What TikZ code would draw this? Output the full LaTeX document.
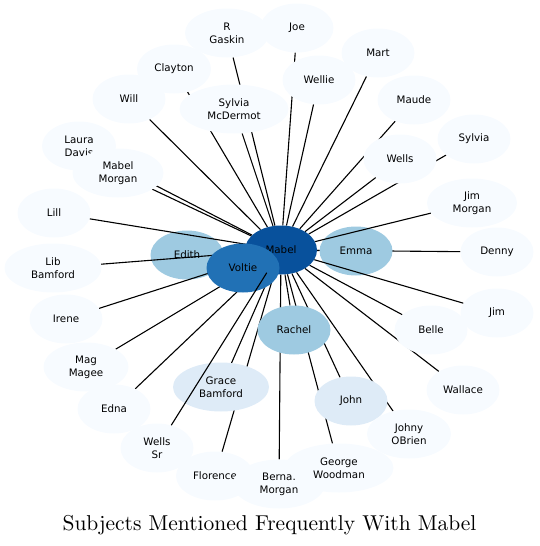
\documentclass[tikz,border=0pt]{standalone}
\usepackage{fontspec}
\newfontfamily\lab{DejaVu Sans}
\newfontfamily\ttl{lmroman10-regular}[Extension=.otf]
\usetikzlibrary{shapes.geometric}
\definecolor{pale}{HTML}{F7FBFF}
\definecolor{light}{HTML}{DEEBF7}
\definecolor{mid}{HTML}{9ECAE1}
\definecolor{strong}{HTML}{2171B5}
\definecolor{deep}{HTML}{08519C}
\pgfdeclarelayer{bglayer}
\pgfdeclarelayer{edgelayer}
\pgfdeclarelayer{toplayer}
\pgfsetlayers{bglayer,edgelayer,main,toplayer}
\tikzset{
  lbl/.style={font=\lab\fontsize{10.3}{13}\selectfont, align=center, text=black},
  nd/.style={ellipse, inner sep=0pt, minimum height=49pt, minimum width=73pt, lbl},
  pl/.style={nd, fill=pale},
  lt/.style={nd, fill=light},
  md/.style={nd, fill=mid},
  ed/.style={line width=1.1pt, black}
}
\begin{document}
\begin{tikzpicture}[x=1pt,y=-1pt]
\useasboundingbox (0,0) rectangle (540,546);
\begin{pgfonlayer}{bglayer}
\node[md] (edith) at (187,255) {Edith};
\end{pgfonlayer}
% main layer nodes
\node[nd, fill=deep, minimum width=72pt] (mabel) at (281,250) {Mabel};
\node[nd, fill=strong] (voltie) at (243,268) {Voltie};
\node[md] (emma) at (356,251) {Emma};
\node[md] (rachel) at (294,330) {Rachel};
\node[lt] (john) at (351,401) {John};
\node[lt, minimum width=96pt] (grace) at (221,387) {Grace\\Bamford};
\node[pl, minimum width=84pt] (rgaskin) at (227,33) {R\\Gaskin};
\node[pl] (joe) at (297,28) {Joe};
\node[pl] (mart) at (378,53) {Mart};
\node[pl] (wellie) at (319,80) {Wellie};
\node[pl] (maude) at (414,100) {Maude};
\node[pl] (sylvia) at (474,139) {Sylvia};
\node[pl] (wells) at (400,159) {Wells};
\node[pl, minimum width=90pt] (jimmorgan) at (472,203) {Jim\\Morgan};
\node[pl] (denny) at (497,252) {Denny};
\node[pl] (jim) at (497,313) {Jim};
\node[pl] (belle) at (431,330) {Belle};
\node[pl] (wallace) at (463,390) {Wallace};
\node[pl, minimum width=84pt] (johny) at (409,434) {Johny\\OBrien};
\node[pl, minimum width=78pt] (florence) at (215,476) {Florence};
\node[pl, minimum width=109pt] (george) at (339,468) {};
\node[pl, minimum width=92pt] (berna) at (279,484) {Berna.\\Morgan};
\node[lbl] (georgetext) at (george.center) {George\\Woodman};
\node[pl] (wellssr) at (157,448) {Wells\\Sr};
\node[pl] (edna) at (114,409) {Edna};
\node[pl, minimum width=85pt] (mag) at (86,367) {Mag\\Magee};
\node[pl] (irene) at (66,319) {Irene};
\node[pl, minimum width=97pt] (lib) at (53,268) {Lib\\Bamford};
\node[pl] (lill) at (54,213) {Lill};
\node[pl, minimum width=74pt] (laura) at (79,146) {Laura\\Davis};
\node[pl, minimum width=91pt] (mabelmorgan) at (118,173) {Mabel\\Morgan};
\node[pl, minimum width=74pt] (clayton) at (174,69) {Clayton};
\node[pl] (will) at (129,99) {Will};
\node[pl, minimum width=109pt] (sylviamc) at (234,109) {Sylvia\\McDermot};
\begin{pgfonlayer}{edgelayer}
\foreach \n in {emma,rachel,john,grace,rgaskin,joe,mart,wellie,maude,sylvia,wells,
  denny,belle,wallace,johny,george,florence,berna,edna,mag,irene,lib,lill,laura,
  mabelmorgan,clayton,will,sylviamc}
  \draw[ed] (mabel) -- (\n);
\end{pgfonlayer}
\begin{pgfonlayer}{toplayer}
\draw[ed] (mabel) -- (wellssr);
\draw[ed] (mabel) -- (jimmorgan);
\draw[ed] (mabel) -- (jim);
\end{pgfonlayer}
\node[font=\ttl\fontsize{21.5}{25}\selectfont, anchor=base, inner sep=0pt] (title) at (269.5,530)
  {Subjects Mentioned Frequently With Mabel};
\end{tikzpicture}
\end{document}
